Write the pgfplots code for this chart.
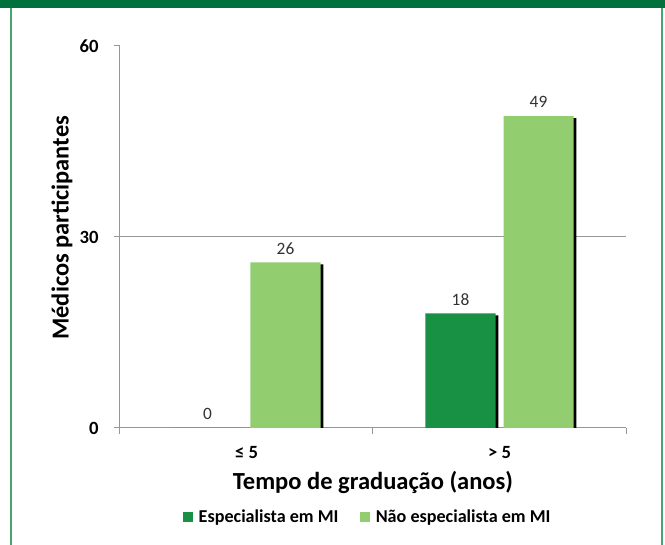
\documentclass[border=0pt]{standalone}
\usepackage{fontspec}
\setmainfont{Carlito}
\usepackage{pgfplots}
\pgfplotsset{compat=1.18}
\usetikzlibrary{shadows}
\definecolor{darkbar}{RGB}{24,145,68}
\definecolor{lightbar}{RGB}{146,205,112}
\definecolor{topgreen}{RGB}{0,112,60}
\definecolor{bordergreen}{RGB}{70,165,110}
\definecolor{axisgray}{RGB}{150,150,150}
\definecolor{labelgray}{RGB}{50,50,50}
\pgfplotsset{
  sqlegend/.style={legend image code/.code={\fill[##1] (0pt,-3.75pt) rectangle (7.5pt,3.75pt);}},
}
\begin{document}
\begin{tikzpicture}
\useasboundingbox (0,0) rectangle (498.75pt,408.75pt);
\fill[white] (0,0) rectangle (498.75pt,408.75pt);
\fill[topgreen] (0,402.75pt) rectangle (498.75pt,408.75pt);
\draw[bordergreen, line width=1pt] (8.25pt,0) -- (8.25pt,402.75pt);
\draw[bordergreen, line width=1pt] (496.5pt,0) -- (496.5pt,402.75pt);
\begin{axis}[
  /pgf/number format/assume math mode=true,
  at={(90pt,87.75pt)}, anchor=south west,
  width=379.5pt, height=286.5pt, scale only axis,
  xmin=-0.5, xmax=1.5, ymin=0, ymax=60,
  axis x line*=bottom, axis y line*=left,
  xtick pos=bottom, ytick pos=left,
  axis line style={draw=axisgray, line width=0.75pt},
  every tick/.style={draw=axisgray, line width=0.75pt},
  tick align=outside, major tick length=4.5pt,
  ytick={0,30,60},
  yticklabel style={font=\bfseries\fontsize{14}{16}\selectfont, xshift=-8pt},
  extra y ticks={30}, extra y tick labels={},
  extra y tick style={grid=major},
  major grid style={draw=axisgray, line width=0.75pt},
  xtick={-0.5,0.5,1.5}, xticklabels={},
  extra x ticks={0,1}, extra x tick labels={≤ 5, > 5},
  extra x tick style={major tick length=0pt},
  xticklabel style={font=\bfseries\fontsize{14}{16}\selectfont, anchor=center, yshift=-18.75pt},
  xlabel={Tempo de graduação (anos)},
  xlabel style={at={(axis description cs:0.5,-0.1414)}, anchor=center, font=\bfseries\fontsize{18.4}{22}\selectfont},
  ylabel={Médicos participantes},
  ylabel style={at={(axis description cs:-0.1146,0.524)}, anchor=center, font=\bfseries\fontsize{18.3}{22}\selectfont},
  legend style={at={(axis description cs:0.49,-0.233)}, anchor=center, draw=none, fill=none,
    legend columns=2, font=\bfseries\fontsize{13.6}{16}\selectfont,
    /tikz/every odd column/.append style={column sep=2.5pt},
    /tikz/every even column/.append style={column sep=14pt}},
  legend cell align=left,
]
\addplot[ybar, bar width=52.5pt, bar shift=-29.25pt, fill=darkbar, draw=none,
  drop shadow={shadow xshift=2.2pt, shadow yshift=-1.5pt, opacity=1, fill=black},
  nodes near coords,
  every node near coord/.append style={font=\fontsize{13}{15}\selectfont, text=labelgray, anchor=center, xshift=-29.25pt, yshift=10.5pt},
  forget plot] coordinates {(0,0) (1,18)};
\addplot[ybar, bar width=52.5pt, bar shift=29.25pt, fill=lightbar, draw=none,
  drop shadow={shadow xshift=2.2pt, shadow yshift=-1.5pt, opacity=1, fill=black},
  nodes near coords,
  every node near coord/.append style={font=\fontsize{13}{15}\selectfont, text=labelgray, anchor=center, xshift=29.25pt, yshift=10.5pt},
  forget plot] coordinates {(0,26) (1,49)};
\addlegendimage{sqlegend, fill=darkbar, draw=none}
\addlegendentry{Especialista em MI}
\addlegendimage{sqlegend, fill=lightbar, draw=none}
\addlegendentry{Não especialista em MI}
\end{axis}
\end{tikzpicture}
\end{document}
